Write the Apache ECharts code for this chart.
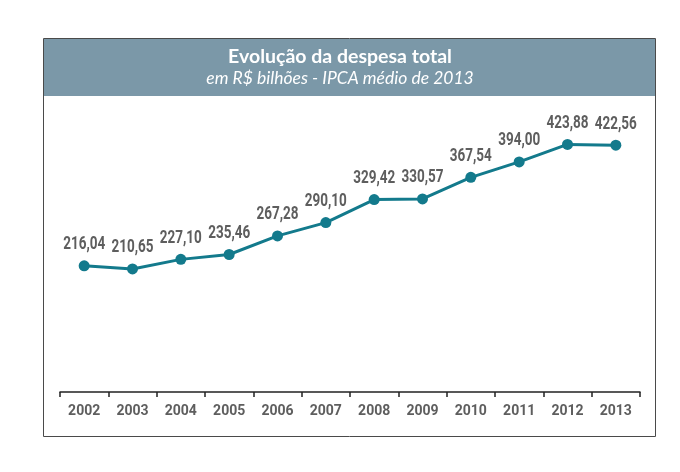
<!DOCTYPE html>
<html><head><meta charset="utf-8">
<script src="https://cdn.jsdelivr.net/npm/echarts@6/dist/echarts.min.js"></script>
<style>html,body{margin:0;padding:0;background:#fff}#c{width:680px;height:472px}</style>
</head><body><div id="c"></div>
<script>
var categories = ['2002','2003','2004','2005','2006','2007','2008','2009','2010','2011','2012','2013'];
var values = [216.04,210.65,227.10,235.46,267.28,290.10,329.42,330.57,367.54,394.00,423.88,422.56];
var titleText = 'Evolução da despesa total';
var subtitleText = 'em R$ bilhões - IPCA médio de 2013';

var labelData = categories.map(function(c,i){return [c, values[i]];});
var chart = echarts.init(document.getElementById('c'), null, {renderer:'canvas'});
chart.setOption({
  animation:false,
  backgroundColor:'#fff',
  graphic:[
    {type:'rect', shape:{x:43.5,y:38.5,width:612,height:398}, style:{fill:'#fff',stroke:'#4a4a4a',lineWidth:1}, z:-10},
    {type:'rect', shape:{x:44,y:39,width:611,height:57}, style:{fill:'#7b98a8'}, z:-5}
  ],
  title:{
    text:titleText, subtext:subtitleText, left:'center', top:42, itemGap:2,
    textStyle:{color:'#fff',fontFamily:'Lato',fontWeight:'bold',fontSize:19.5},
    subtextStyle:{color:'#fff',fontFamily:'Lato',fontStyle:'italic',fontSize:17.5}
  },
  grid:{left:60,right:40,top:100,bottom:80},
  xAxis:{
    type:'category', data:categories, boundaryGap:true, offset:3,
    axisLine:{lineStyle:{color:'#222',width:1.5}},
    axisTick:{show:true,length:5,lineStyle:{color:'#222',width:1.5}},
    axisLabel:{color:'#5e5e5e',fontFamily:'Roboto',fontWeight:'bold',fontSize:14,margin:9}
  },
  yAxis:{type:'value',min:0,max:500,show:false,splitLine:{show:false}},
  series:[{
    type:'line', data:values, symbol:'circle', symbolSize:11,
    lineStyle:{color:'#137a8c',width:3}, itemStyle:{color:'#137a8c'}
  },{
    type:'custom', data:labelData, z:5,
    renderItem:function(params, api){
      var pt = api.coord([api.value(0), api.value(1)]);
      var txt = api.value(1).toFixed(2).replace('.', ',');
      return {type:'text', x:pt[0], y:pt[1]-12, scaleX:0.75,
        style:{text:txt, fill:'#5e5e5e', fontFamily:'Roboto', fontWeight:'bold', fontSize:18, align:'center', verticalAlign:'bottom'}};
    }
  }]
});
</script></body></html>
